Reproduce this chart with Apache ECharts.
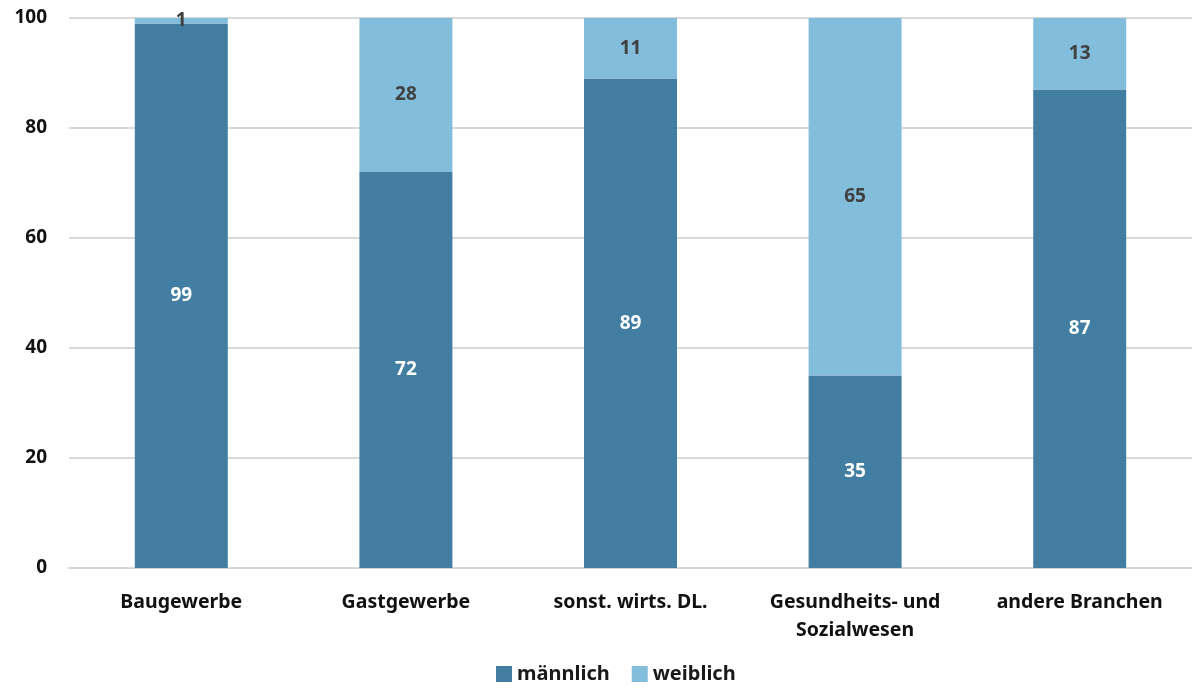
<!DOCTYPE html>
<html>
<head>
<meta charset="utf-8">
<script src="https://cdn.jsdelivr.net/npm/echarts@6/dist/echarts.min.js"></script>
<style>
  html, body { margin: 0; padding: 0; background: #fff; }
  #chart { width: 1192px; height: 689px; }
</style>
</head>
<body>
<div id="chart"></div>
<script>
var categories = ['Baugewerbe', 'Gastgewerbe', 'sonst. wirts. DL.', 'Gesundheits- und\nSozialwesen', 'andere Branchen'];
var maennlich = [99, 72, 89, 35, 87];
var weiblich = [1, 28, 11, 65, 13];

var chartDom = document.getElementById('chart');
var myChart = echarts.init(chartDom);
var fontFamily = '"Noto Sans", "Open Sans", sans-serif';
var option;

option = {
  animation: false,
  textStyle: { fontFamily: fontFamily },
  grid: { left: 69, right: 0, top: 18, bottom: 121, containLabel: false },
  legend: {
    left: 491,
    bottom: 0,
    itemWidth: 16,
    itemHeight: 16,
    itemGap: 22,
    icon: 'rect',
    textStyle: { fontSize: 20, fontWeight: 'bold', color: '#1a1a1a', fontFamily: fontFamily }
  },
  xAxis: {
    type: 'category',
    data: categories,
    axisTick: { show: false },
    axisLine: { lineStyle: { color: '#d9d9d9', width: 2 } },
    axisLabel: {
      fontSize: 19.5, fontWeight: 'bold', color: '#111', margin: 20, lineHeight: 28,
      fontFamily: fontFamily
    }
  },
  yAxis: {
    type: 'value',
    min: 0,
    max: 100,
    interval: 20,
    axisLabel: { fontSize: 19, fontWeight: 'bold', color: '#111', margin: 22, fontFamily: fontFamily },
    splitLine: { lineStyle: { color: '#d9d9d9', width: 2 } }
  },
  series: [
    {
      name: 'männlich',
      type: 'bar',
      stack: 'total',
      barWidth: 93,
      data: maennlich,
      itemStyle: { color: '#417ea2' },
      label: {
        show: true, position: 'inside', color: '#ffffff',
        fontSize: 19, fontWeight: 'bold', fontFamily: fontFamily
      }
    },
    {
      name: 'weiblich',
      type: 'bar',
      stack: 'total',
      barWidth: 93,
      data: weiblich,
      itemStyle: { color: '#82bddc' },
      label: {
        show: true, position: 'inside', color: '#404040',
        fontSize: 19, fontWeight: 'bold', fontFamily: fontFamily
      }
    }
  ]
};

option && myChart.setOption(option);
</script>
</body>
</html>
